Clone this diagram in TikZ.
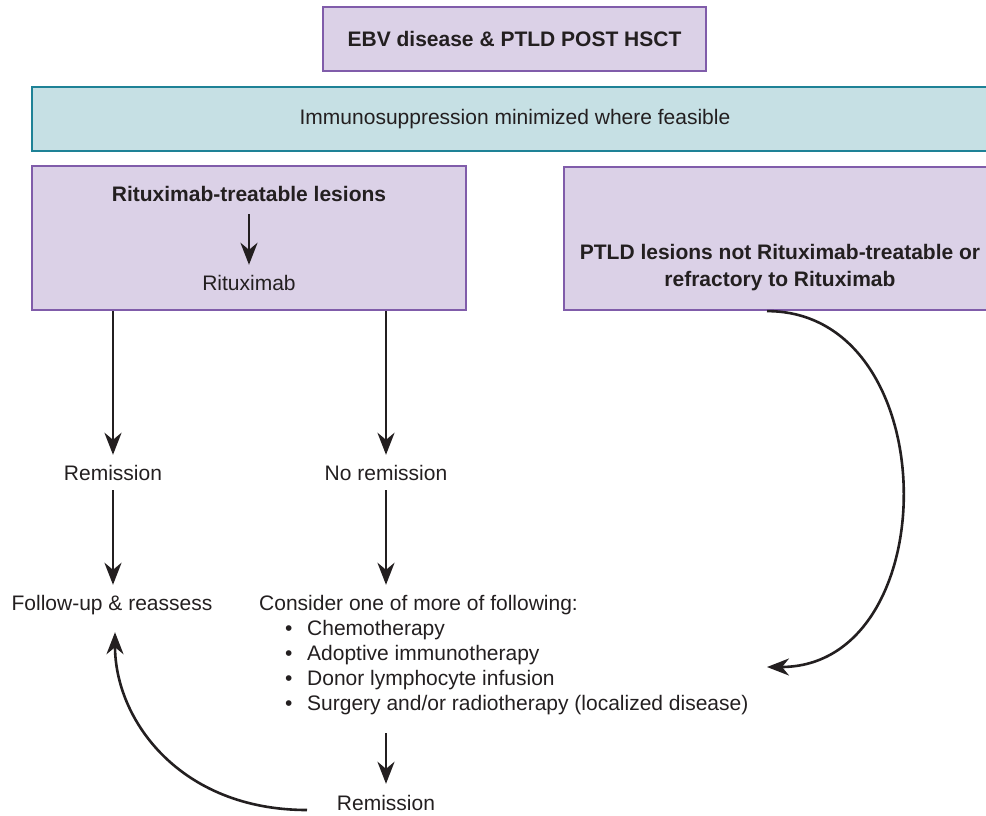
\documentclass[tikz,border=0pt]{standalone}
\usepackage{fontspec}
\setmainfont{Liberation Sans}
\usetikzlibrary{arrows.meta}
\definecolor{lilac}{RGB}{219,209,231}
\definecolor{lilacedge}{RGB}{128,92,170}
\definecolor{aqua}{RGB}{198,224,228}
\definecolor{aquaedge}{RGB}{30,130,150}
\definecolor{ink}{RGB}{35,31,32}
\begin{document}
\begin{tikzpicture}[x=1pt,y=-1pt,
  every node/.style={font=\fontsize{21}{26}\selectfont, text=ink},
  lbl/.style={inner sep=0pt, text height=15pt, text depth=5pt},
  panel/.style 2 args={draw=lilacedge, fill=lilac, line width=2.2pt,
    minimum width=#1, minimum height=#2, inner sep=0pt},
  band/.style 2 args={draw=aquaedge, fill=aqua, line width=2.2pt,
    minimum width=#1, minimum height=#2, inner sep=0pt},
  arr/.style={draw=ink, line width=2.9pt,
    -{Stealth[length=22pt,width=17pt,inset=7pt]}},
  curv/.style={draw=ink, line width=2.6pt,
    -{Stealth[length=22pt,width=17pt,inset=7pt]}}
]
\useasboundingbox (0,0) rectangle (986,815);
\clip (0,0) rectangle (986,815);

% header boxes
\node[panel={383pt}{64pt}, font=\fontsize{21}{26}\selectfont\bfseries] (title) at (514.5,39) {EBV disease \& PTLD POST HSCT};
\node[band={966pt}{64pt}] (immuno) at (515,119) {Immunosuppression minimized where feasible};

% left panel: rituximab-treatable branch
\node[panel={434pt}{144pt}] (lbox) at (249,238) {};
\node[lbl, font=\fontsize{21}{26}\selectfont\bfseries] (treat) at (249,196) {Rituximab-treatable lesions};
\node[lbl] (ritux) at (249,285) {Rituximab};
\draw[arr, shorten <=8pt, shorten >=10pt] (treat) -- (ritux);

% right panel: not treatable / refractory
\node[panel={432pt}{143pt}] (rbox) at (780,238.5) {};
\node[align=center, inner sep=0pt, font=\fontsize{21}{27}\selectfont\bfseries] (refr) at (780,268)
  {PTLD lesions not Rituximab-treatable or\\refractory to Rituximab};

% outcomes
\node[lbl] (rem1) at (113,475) {Remission};
\node[lbl] (norem) at (386,475) {No remission};
\node[lbl] (follow) at (112,605) {Follow-up \& reassess};
\node[lbl, anchor=west] (consider) at (259,605) {Consider one of more of following:};
\node[lbl, anchor=west] (b1) at (285,630) {\makebox[22pt][l]{•}Chemotherapy};
\node[lbl, anchor=west] (b2) at (285,655) {\makebox[22pt][l]{•}Adoptive immunotherapy};
\node[lbl, anchor=west] (b3) at (285,680) {\makebox[22pt][l]{•}Donor lymphocyte infusion};
\node[lbl, anchor=west] (b4) at (285,705) {\makebox[22pt][l]{•}Surgery and/or radiotherapy (localized disease)};
\node[lbl] (rem2) at (386,805) {Remission};

\coordinate (rtarget) at (767,667);
\coordinate (lstart) at (307,810);

% straight connectors
\draw[arr, shorten >=10pt] (rem1 |- lbox.south) -- (rem1);
\draw[arr, shorten >=10pt] (norem |- lbox.south) -- (norem);
\draw[arr, shorten <=5pt, shorten >=10pt] (rem1) -- (follow.north -| rem1);
\draw[arr, shorten <=5pt, shorten >=10pt] (norem) -- (consider.north -| norem);
\draw[arr, shorten <=18pt, shorten >=11pt] (b4.south -| rem2) -- (rem2);

% curved connectors
\draw[curv] ([xshift=-13pt]rbox.south) .. controls +(180,0) and +(180,0) .. (rtarget);
\draw[curv] (lstart) .. controls (180,810) and (115,720) .. ([xshift=3pt,yshift=-17pt]follow.south);
\end{tikzpicture}
\end{document}
